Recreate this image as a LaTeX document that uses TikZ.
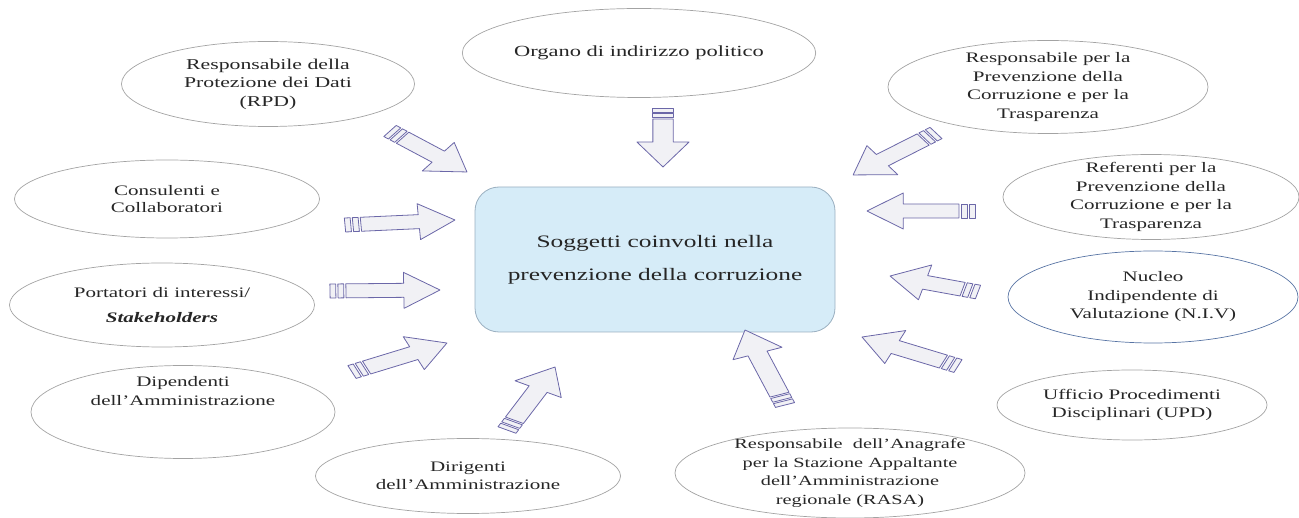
\documentclass[tikz,border=0pt]{standalone}
\usepackage{fontspec}
\setmainfont{Liberation Serif}[FakeStretch=1.45]
\usetikzlibrary{shapes.geometric}

\definecolor{arrowline}{HTML}{6B67A8}
\definecolor{arrowfill}{HTML}{F1F1F5}
\definecolor{ovalline}{HTML}{A3A3A3}
\definecolor{nivline}{HTML}{5874A4}
\definecolor{boxfill}{HTML}{D6ECF8}
\definecolor{boxline}{HTML}{9AAFC0}
\definecolor{textgray}{HTML}{262626}

% striped block arrow from a tail coordinate to a tip coordinate
\newcommand{\stripedarrow}[2]{%
  \pgfpointanchor{#1}{center}\pgfgetlastxy{\sax}{\say}%
  \pgfpointanchor{#2}{center}\pgfgetlastxy{\sbx}{\sby}%
  \pgfmathsetmacro{\sdx}{(\sbx-\sax)/1.45}%
  \pgfmathsetmacro{\sdy}{\sby-\say}%
  \pgfmathsetmacro{\sang}{atan2(\sdy,\sdx)}%
  \pgfmathsetmacro{\slen}{veclen(\sdx,\sdy)}%
  \begin{scope}[shift={(#1)},xscale=1.45,rotate=\sang]
    \draw[blockarrow] (0,-7) rectangle (4,7);
    \draw[blockarrow] (5.5,-7) rectangle (9.5,7);
    \draw[blockarrow] (11,-7) -- (\slen-25,-7) -- (\slen-25,-18) -- (\slen,0)
      -- (\slen-25,18) -- (\slen-25,7) -- (11,7) -- cycle;
  \end{scope}}

\begin{document}
\begin{tikzpicture}[x=1pt,y=1pt,
    oval/.style={ellipse,draw=ovalline,line width=0.7pt,inner xsep=0pt,inner ysep=-6pt,
      align=center,text=textgray,font=\fontsize{14.5}{18.5}\selectfont},
    centrebox/.style={draw=boxline,fill=boxfill,line width=0.8pt,rounded corners=24pt,
      align=center,text=textgray,font=\fontsize{17.5}{33}\selectfont},
    blockarrow/.style={draw=arrowline,fill=arrowfill,line width=0.8pt,line join=round}]
    \useasboundingbox (0,0) rectangle (1299,-518);

    % Centre
    \node[centrebox,minimum width=360,minimum height=145] (centre) at (655,-259.5)
      {Soggetti coinvolti nella\\prevenzione della corruzione};

    % Ellipses
    \node[oval,minimum width=293,minimum height=85,font=\fontsize{15}{18.5}\selectfont] (rpd) at (268,-84)
      {Responsabile della\\Protezione dei Dati\\(RPD)};
    \node[oval,minimum width=322,minimum height=89,font=\fontsize{15.5}{18.5}\selectfont] (org) at (639,-53)
      {Organo di indirizzo politico};
    \node[oval,minimum width=320,minimum height=93] (rpct) at (1048,-87)
      {Responsabile per la\\Prevenzione della\\Corruzione e per la\\Trasparenza};
    \node[oval,minimum width=296,minimum height=85] (ref) at (1151,-197)
      {Referenti per la\\Prevenzione della\\Corruzione e per la\\Trasparenza};
    \node[oval,minimum width=305,minimum height=78,font=\fontsize{14.5}{17}\selectfont] (cons) at (167,-199)
      {Consulenti e\\Collaboratori};
    \node[oval,minimum width=305,minimum height=84] (port) at (162,-305)
      {Portatori di interessi/\\[7pt]\textbf{\textit{Stakeholders}}};
    \node[oval,minimum width=290,minimum height=92,draw=nivline] (niv) at (1153,-297)
      {Nucleo\\Indipendente di\\Valutazione (N.I.V)};
    \node[oval,minimum width=270,minimum height=70] (upd) at (1132,-405)
      {Ufficio Procedimenti\\Disciplinari (UPD)};
    \node[oval,minimum width=304,minimum height=93] (dip) at (183,-412)
      {Dipendenti\\dell'Amministrazione\\\strut\\\strut};
    \node[oval,minimum width=305,minimum height=75] (dir) at (468,-476)
      {Dirigenti\\dell'Amministrazione};
    \node[oval,minimum width=350,minimum height=90,font=\fontsize{14}{18.5}\selectfont] (rasa) at (850,-473)
      {Responsabile\ \ dell'Anagrafe\\per la Stazione Appaltante\\dell'Amministrazione\\regionale (RASA)};

    % Arrow ends
    \coordinate (rpdT) at (390,-131);  \coordinate (rpdH) at (467,-172);
    \coordinate (orgT) at (663,-108);  \coordinate (orgH) at (663,-167);
    \coordinate (rpctT) at (936,-133); \coordinate (rpctH) at (853,-175);
    \coordinate (refT) at (975,-211);  \coordinate (refH) at (867,-211);
    \coordinate (nivT) at (978,-292);  \coordinate (nivH) at (890,-276);
    \coordinate (updT) at (958,-366);  \coordinate (updH) at (862,-337);
    \coordinate (rasaT) at (785,-405); \coordinate (rasaH) at (745,-330);
    \coordinate (dirT) at (507,-430);  \coordinate (dirH) at (555,-367);
    \coordinate (dipT) at (352,-372);  \coordinate (dipH) at (447,-343);
    \coordinate (consT) at (345,-225); \coordinate (consH) at (455,-220);
    \coordinate (portT) at (330,-291); \coordinate (portH) at (440,-290);

    % Arrows
    \foreach \a in {rpd,org,rpct,ref,niv,upd,rasa,dir,dip,cons,port}
      {\stripedarrow{\a T}{\a H}}
\end{tikzpicture}
\end{document}
